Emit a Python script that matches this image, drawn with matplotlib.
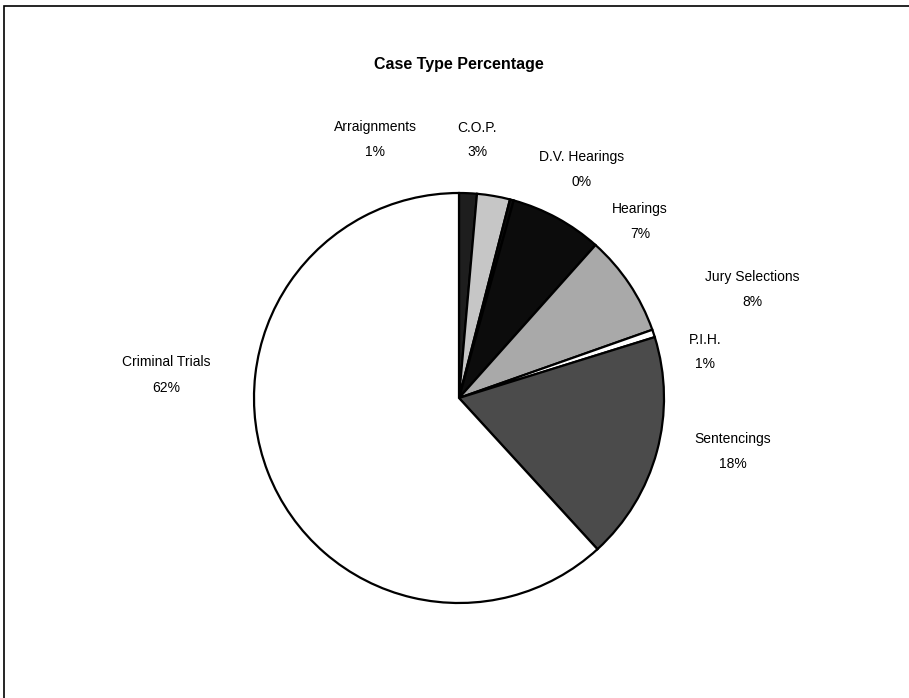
import matplotlib.pyplot as plt
from matplotlib.patches import Rectangle

# donnees du camembert
categories = ["Arraignments", "C.O.P.", "D.V. Hearings", "Hearings",
              "Jury Selections", "P.I.H.", "Sentencings", "Criminal Trials"]
pourcentages = [1.4, 2.6, 0.3, 7.3, 8.0, 0.6, 18.0, 61.8]

couleurs = ["#1e1e1e", "#c6c6c6", "#0c0c0c", "#0c0c0c",
            "#a9a9a9", "#ffffff", "#4b4b4b", "#ffffff"]

# position des etiquettes (coordonnees en pixels, origine en bas a gauche)
pos_etiquettes = [(375, 558), (477, 558), (582, 529), (640, 476),
                  (752, 409), (705, 346), (733, 247), (166, 323)]

plt.rcParams['font.family'] = ['Liberation Sans', 'DejaVu Sans']

fig = plt.figure(figsize=(9.09, 6.98), dpi=100)
ax = fig.add_axes([0, 0, 1, 1])

# cadre du graphique (seuls les bords gauche et haut sont visibles)
ax.add_patch(Rectangle((3.5, -10), 920, 698 - 6 + 10, fill=False,
                       edgecolor="black", linewidth=1.2))

ax.pie(pourcentages, colors=couleurs, startangle=90, counterclock=False,
       center=(459, 300), radius=205, frame=True,
       wedgeprops=dict(edgecolor="black", linewidth=1.6))
ax.set_xlim(0, 909)
ax.set_ylim(0, 698)
ax.set_aspect('equal')
ax.axis('off')

for cat, val, (x, y) in zip(categories, pourcentages, pos_etiquettes):
    ax.text(x, y, f"{cat}\n{val:.0f}%", ha="center", va="center",
            fontsize=10, linespacing=2.0, color="black")

ax.text(459, 633, "Case Type Percentage", ha="center", va="center",
        fontsize=11.5, fontweight="bold")

plt.savefig("out.png", dpi=100)
